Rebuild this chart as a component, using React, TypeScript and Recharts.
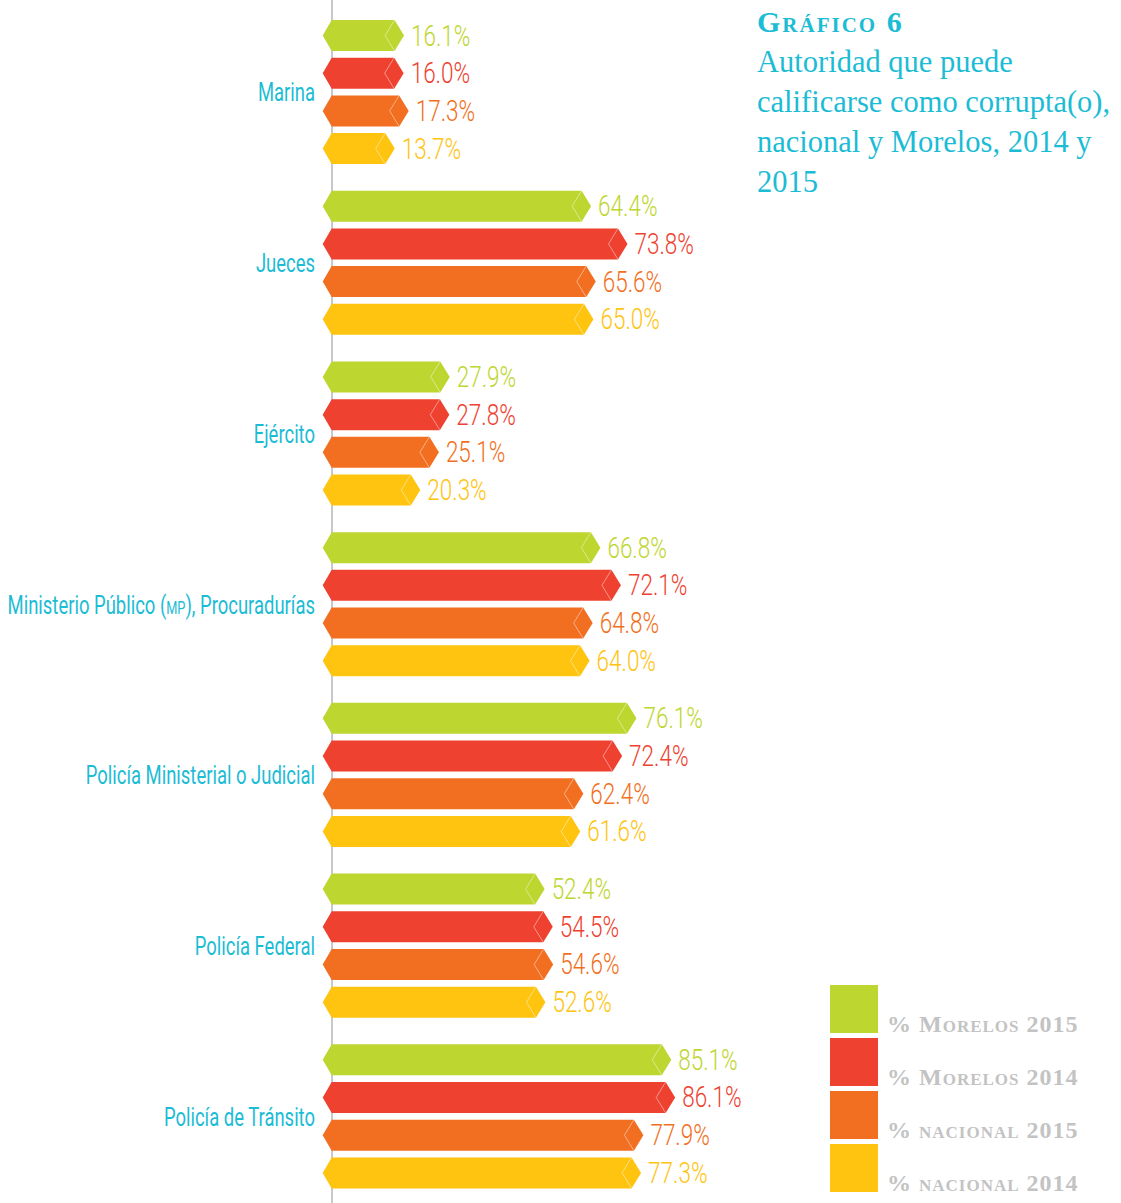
import React from "react";
import { Bar, BarChart, LabelList, XAxis, YAxis } from "recharts";

const categories = [
  "Marina",
  "Jueces",
  "Ejército",
  "Ministerio Público (MP), Procuradurías",
  "Policía Ministerial o Judicial",
  "Policía Federal",
  "Policía de Tránsito",
];
const morelos2015 = [16.1, 64.4, 27.9, 66.8, 76.1, 52.4, 85.1];
const morelos2014 = [16.0, 73.8, 27.8, 72.1, 72.4, 54.5, 86.1];
const nacional2015 = [17.3, 65.6, 25.1, 64.8, 62.4, 54.6, 77.9];
const nacional2014 = [13.7, 65.0, 20.3, 64.0, 61.6, 52.6, 77.3];

const series = [
  { key: "m15", label: "% Morelos 2015", color: "#bed630" },
  { key: "m14", label: "% Morelos 2014", color: "#ee4130" },
  { key: "n15", label: "% nacional 2015", color: "#f26f21" },
  { key: "n14", label: "% nacional 2014", color: "#fec40f" },
];

const data = categories.map((name, i) => ({
  name,
  m15: morelos2015[i],
  m14: morelos2014[i],
  n15: nacional2015[i],
  n14: nacional2014[i],
}));

const CYAN = "#1cbcd5";
const SANS = "Roboto, 'Open Sans', sans-serif";
const SERIF = "'Liberation Serif', 'DejaVu Serif', serif";

const ArrowBar = (props: any) => {
  const { x, y, width, height, fill } = props;
  if (!height) return null;
  const d = 9.5;
  const mid = y + height / 2;
  const right = x + width;
  const path = `M${x - 19},${mid} L${x - 10},${y} L${right - d},${y} L${right},${mid} L${right - d},${y + height} L${x - 10},${y + height} Z`;
  return (
    <g>
      <path d={path} fill={fill} />
      <path
        d={`M${right - d},${y} L${right - 2 * d},${mid} L${right - d},${y + height}`}
        fill="none"
        stroke="#fff"
        strokeOpacity={0.45}
        strokeWidth={1}
      />
    </g>
  );
};

const valueLabel = (color: string) => (props: any) => {
  const { x, y, width, height, value } = props;
  const tx = x + width + 7;
  const ty = y + height / 2 + 10;
  return (
    <text
      transform={`translate(${tx},${ty}) scale(0.75,1)`}
      fill={color}
      fontFamily={SANS}
      fontWeight={300}
      fontSize={30}
    >
      {`${Number(value).toFixed(1)}%`}
    </text>
  );
};

const CategoryTick = (props: any) => {
  const { x, y, payload } = props;
  const parts = String(payload.value).split(/(\([A-Z]+\))/);
  return (
    <text
      transform={`translate(${x},${y + 9}) scale(0.71,1)`}
      textAnchor="end"
      fill={CYAN}
      fontFamily={SANS}
      fontSize={26}
    >
      {parts.map((p, i) =>
        /^\([A-Z]+\)$/.test(p) ? (
          <React.Fragment key={i}>
            <tspan>(</tspan>
            <tspan fontSize={18}>{p.slice(1, -1)}</tspan>
            <tspan fontSize={26}>)</tspan>
          </React.Fragment>
        ) : (
          <tspan key={i}>{p}</tspan>
        )
      )}
    </text>
  );
};

export default function App() {
  return (
    <div
      style={{
        position: "absolute",
        left: 0,
        top: 0,
        width: 1121,
        height: 1203,
        background: "#fff",
      }}
    >
      {/* vertical rule behind the bars */}
      <div
        style={{
          position: "absolute",
          left: 331,
          top: 0,
          width: 2,
          height: 1203,
          background: "#c8c8c8",
        }}
      />
      <BarChart
        width={1121}
        height={1203}
        data={data}
        layout="vertical"
        margin={{ top: 0, right: 392, bottom: 0, left: 0 }}
        barSize={31}
        barGap={6.7}
      >
        <XAxis type="number" domain={[-2.5, 100]} hide />
        <YAxis
          type="category"
          dataKey="name"
          width={332}
          padding={{ top: 7, bottom: 1 }}
          axisLine={false}
          tickLine={false}
          tickSize={0}
          tickMargin={17}
          tick={<CategoryTick />}
          interval={0}
        />
        {series.map((s) => (
          <Bar
            key={s.key}
            dataKey={s.key}
            name={s.label}
            fill={s.color}
            shape={<ArrowBar />}
            isAnimationActive={false}
          >
            <LabelList dataKey={s.key} content={valueLabel(s.color)} />
          </Bar>
        ))}
      </BarChart>

      <div
        style={{
          position: "absolute",
          left: 757,
          top: 2,
          color: CYAN,
          fontFamily: SERIF,
        }}
      >
        <div
          style={{
            fontSize: 30,
            fontWeight: 700,
            fontVariant: "small-caps",
            lineHeight: "40px",
            letterSpacing: 2,
          }}
        >
          Gráfico 6
        </div>
        <div style={{ fontSize: 30.5, lineHeight: "40px", width: 380 }}>
          Autoridad que puede
          <br />
          calificarse como corrupta(o),
          <br />
          nacional y Morelos, 2014 y
          <br />
          2015
        </div>
      </div>

      <div style={{ position: "absolute", left: 830, top: 985 }}>
        {series.map((s) => (
          <div
            key={s.key}
            style={{ display: "flex", alignItems: "flex-end", height: 48, marginBottom: 5 }}
          >
            <div style={{ width: 48, height: 48, background: s.color }} />
            <div
              style={{
                marginLeft: 9,
                marginBottom: -5,
                color: "#c3c3c3",
                fontFamily: SERIF,
                fontWeight: 700,
                fontVariant: "small-caps",
                fontSize: 24,
                letterSpacing: 1,
                whiteSpace: "nowrap",
              }}
            >
              {s.label}
            </div>
          </div>
        ))}
      </div>
    </div>
  );
}
